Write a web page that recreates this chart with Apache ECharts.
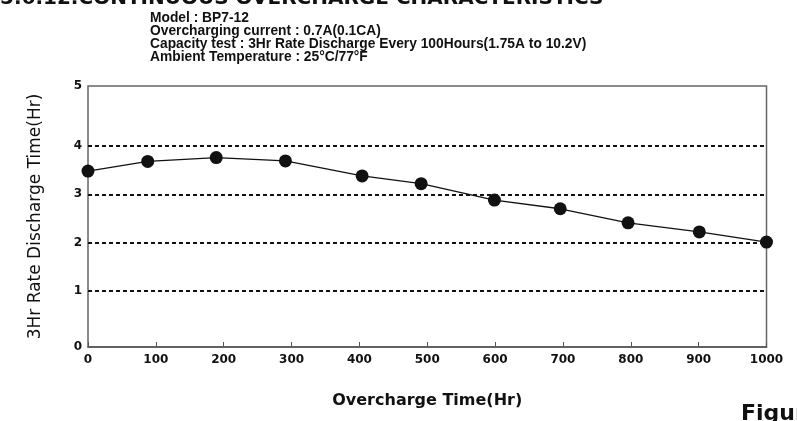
<!DOCTYPE html>
<html>
<head>
<meta charset="utf-8">
<script src="https://cdn.jsdelivr.net/npm/echarts@6/dist/echarts.min.js"></script>
<style>
html,body{margin:0;padding:0;background:#fff;}
#chart{width:797px;height:421px;}
</style>
</head>
<body>
<div id="chart"></div>
<script>
// ---- data ----
var overchargeHours = [0, 88, 189, 291, 404, 491, 599, 696, 796, 901, 1000];
var dischargeTime   = [3.48, 3.68, 3.76, 3.69, 3.38, 3.22, 2.88, 2.70, 2.41, 2.22, 2.01];
var gridLevels = [1, 2, 3, 4];
var xTicks = [0, 100, 200, 300, 400, 500, 600, 700, 800, 900, 1000];
var noteLines = [
  'Model : BP7-12',
  'Overcharging current : 0.7A(0.1CA)',
  'Capacity test : 3Hr Rate Discharge Every 100Hours(1.75A to 10.2V)',
  'Ambient Temperature : 25\u00b0C/77\u00b0F'
];
var topTitle = '5.6.12.CONTINUOUS OVERCHARGE CHARACTERISTICS';
var figureText = 'Figure';
var xTitle = 'Overcharge Time(Hr)';
var yTitle = '3Hr Rate Discharge Time(Hr)';

var chart = echarts.init(document.getElementById('chart'), null, {renderer:'canvas'});
var pts = overchargeHours.map(function(x,i){return [x, dischargeTime[i]];});

var labelFont = {color:'#111', fontFamily:'DejaVu Sans', fontWeight:'bold', fontSize:12};

var graphics = [];
graphics.push({type:'text', left:0, top:-11, style:{text:topTitle, font:'bold 20px "DejaVu Sans"', fill:'#111'}});
noteLines.forEach(function(t,i){
  graphics.push({type:'text', left:150, top:11 + i*13, style:{text:t, font:'bold 13.8px "Liberation Sans"', fill:'#111'}});
});
graphics.push({type:'text', left:741, top:403, style:{text:figureText, font:'bold 22px "DejaVu Sans"', fill:'#111'}});

var option = {
  animation:false,
  backgroundColor:'#fff',
  grid:{left:88, right:30.5, top:86, bottom:74, show:true, borderColor:'#666', borderWidth:1.5, backgroundColor:'transparent'},
  xAxis:{
    type:'value', min:0, max:1000, interval:100,
    name:xTitle, nameLocation:'middle', nameGap:46,
    nameTextStyle:{color:'#111', fontFamily:'DejaVu Sans', fontWeight:'bold', fontSize:16},
    axisLine:{show:true, onZero:false, lineStyle:{color:'#555', width:1.5}},
    axisTick:{show:true, inside:true, length:5, lineStyle:{color:'#555', width:1}},
    axisLabel:Object.assign({margin:7, formatter:function(v){return xTicks.indexOf(v)>=0? String(v):'';}}, labelFont),
    splitLine:{show:false}
  },
  yAxis:[{
    type:'value', min:-0.16, max:5.24,
    name:yTitle, nameLocation:'middle', nameGap:44, nameRotate:90,
    nameTextStyle:{color:'#111', fontFamily:'DejaVu Sans', fontSize:17},
    axisLine:{show:false}, axisTick:{show:false}, splitLine:{show:false},
    axisLabel:Object.assign({margin:6, formatter:function(v){return (gridLevels.indexOf(v)>=0)? String(v):'';}}, labelFont)
  },{
    type:'value', min:0, max:5, interval:5, position:'left', offset:0,
    axisLine:{show:false}, axisTick:{show:false}, splitLine:{show:false},
    axisLabel:Object.assign({margin:6}, labelFont)
  }],
  series:[{
    type:'line', data:pts, yAxisIndex:0,
    symbol:'circle', symbolSize:13,
    itemStyle:{color:'#111'},
    lineStyle:{color:'#111', width:1.3},
    markLine:{
      silent:true, symbol:'none', label:{show:false},
      lineStyle:{color:'#111', type:[4,3], width:1.8},
      data:gridLevels.map(function(v){return {yAxis:v};})
    },
    z:3
  }],
  graphic:graphics
};
chart.setOption(option);
</script>
</body>
</html>
